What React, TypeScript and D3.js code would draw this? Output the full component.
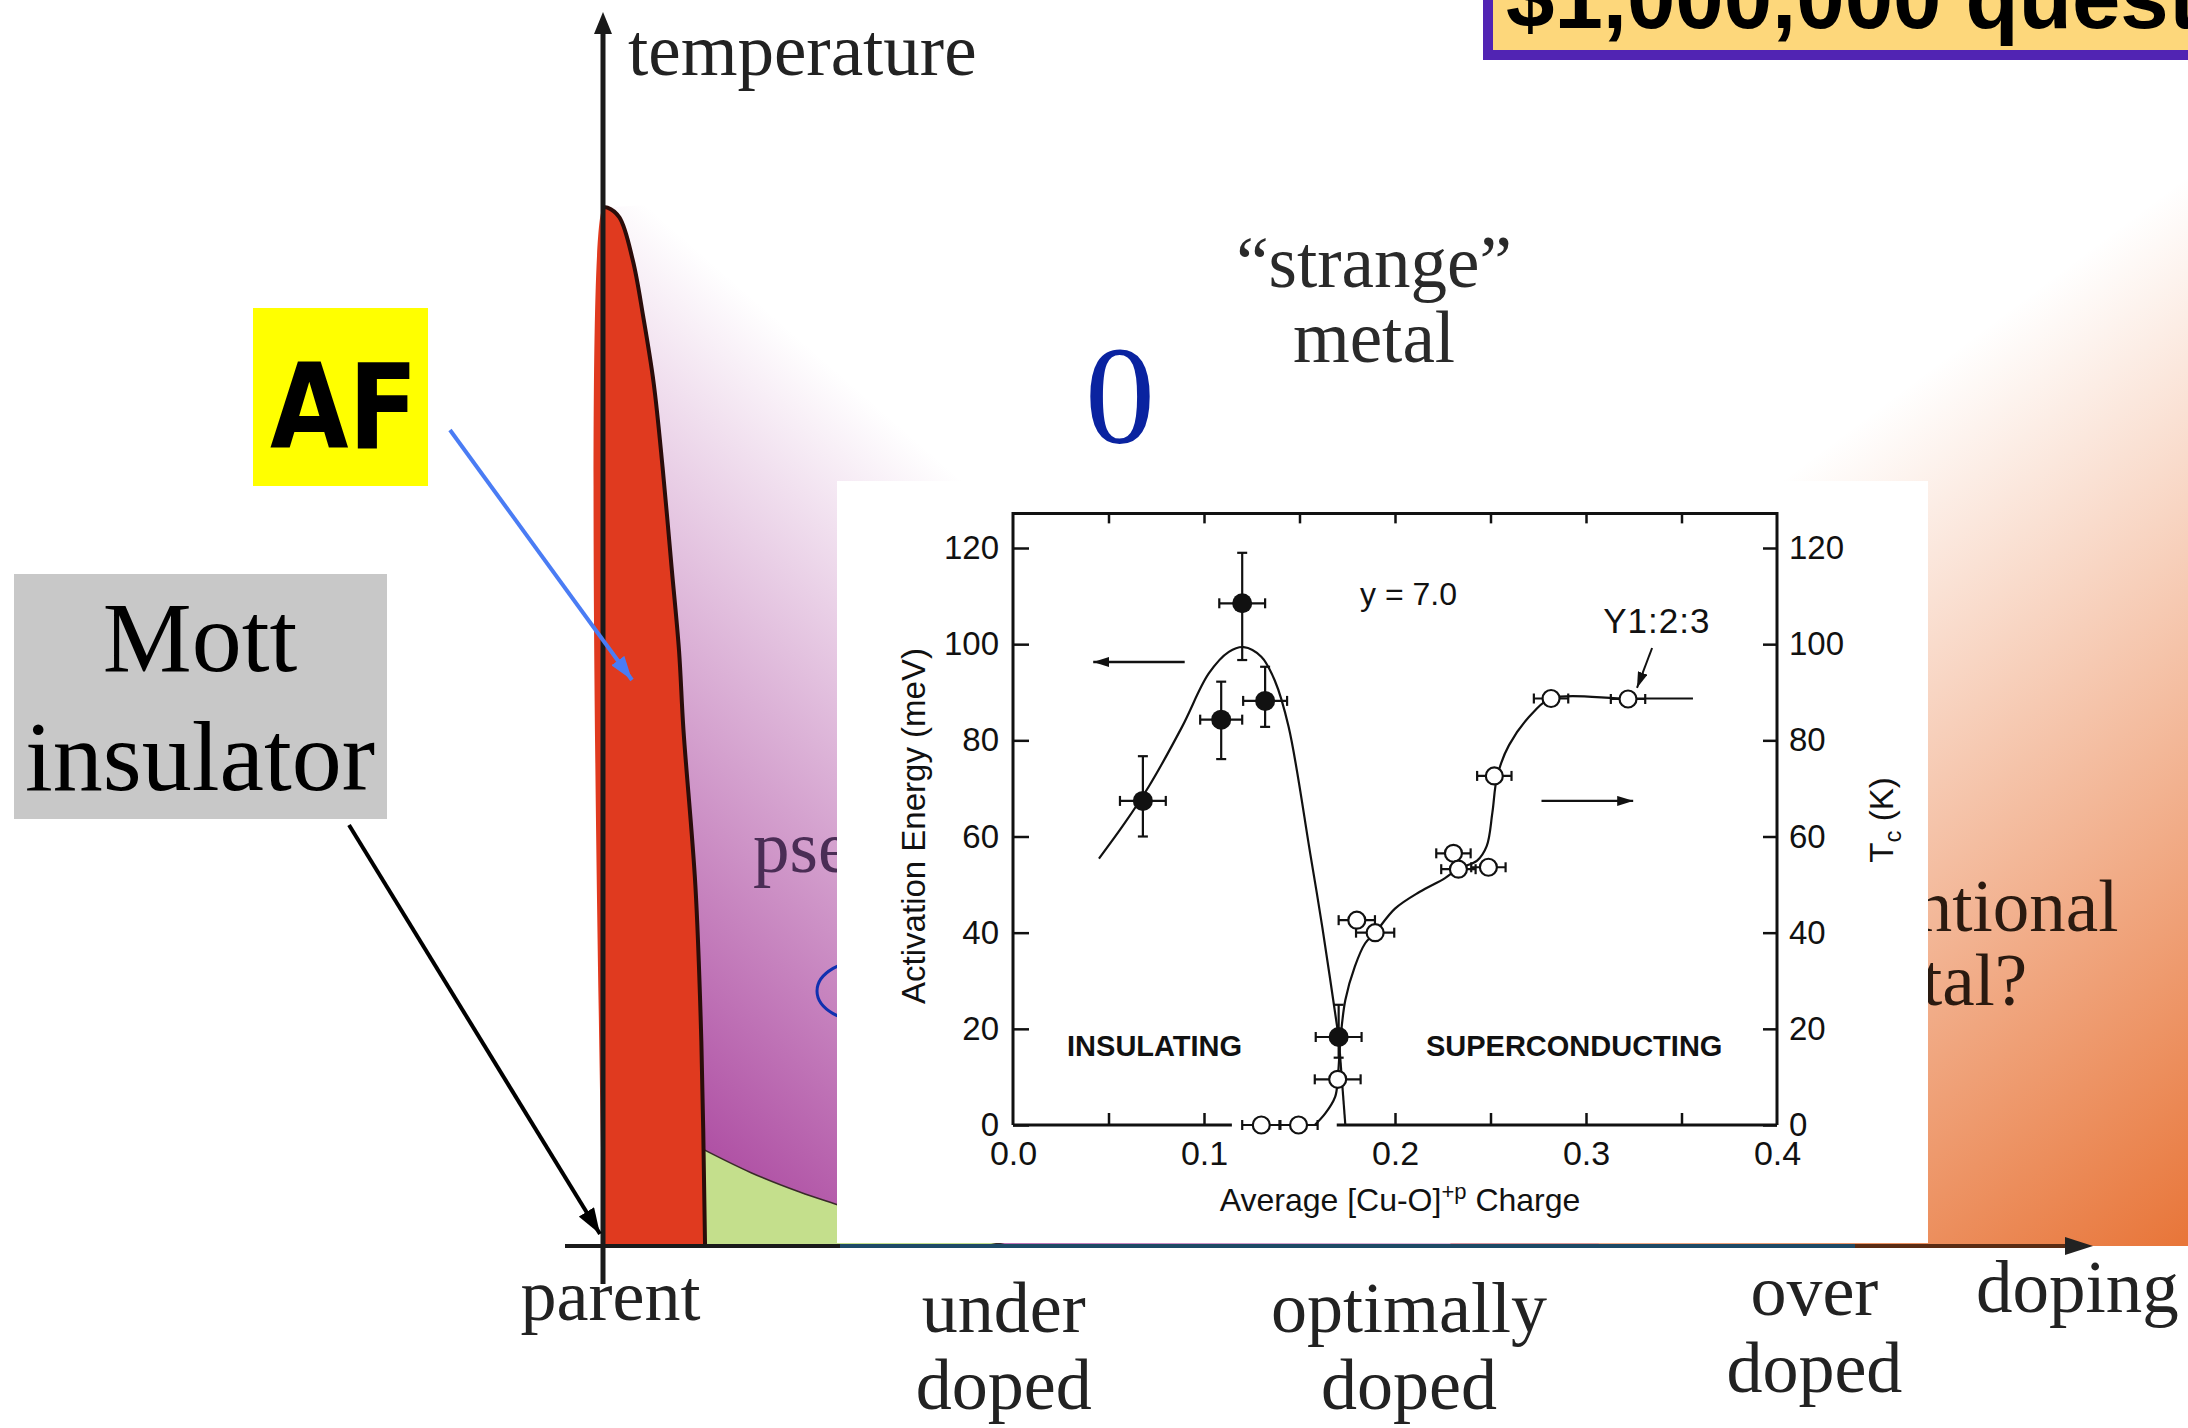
import React, { useEffect, useRef } from "react";
import * as d3 from "d3";

// ---- phase diagram, arbitrary units (doping 0-100, temperature 0-100) ----
const afDoping = [0, 0.3, 1.1, 2.0, 2.7, 3.4, 4.0, 4.6, 5.1, 5.4, 6.2, 6.6, 6.85];
const afTemp = [84.7, 84.7, 83.9, 80.4, 75.8, 70.4, 63.5, 55.4, 48.6, 42.1, 29.4, 16.7, 0];

const greenDoping = [6.7, 9.9, 13.2, 15.9, 19.9, 25.3, 27.3];
const greenTemp = [7.9, 6.0, 4.4, 3.3, 1.7, 0.5, 0];

// outer limit of the pseudogap shading (the colour fades out before it)
const pseudoDoping = [0.2, 7.85, 33.4, 60.2, 66.9];
const pseudoTemp = [84.7, 85.3, 58.4, 20.1, 0];

const metalDoping = [56.8, 66.9, 78.5, 92.6, 107.2];
const metalTemp = [0, 28.2, 62.2, 74.7, 88.2];

const regionNames = [["parent"], ["under", "doped"], ["optimally", "doped"], ["over", "doped"]];
const regionDoping = [0.5, 26.9, 54.1, 81.3];

// ---- inset: activation energy (filled) and Tc (open) vs [Cu-O] charge ----
const aeCharge = [0.068, 0.109, 0.12, 0.132, 0.1705];
const aeEnergy = [67.4, 84.3, 108.5, 88.2, 18.3];
const aeErrUp = [9.3, 7.9, 10.5, 7.1, 6.7];
const aeErrDown = [7.4, 8.2, 11.8, 5.4, 4.3];
const aeErrX = [0.012, 0.011, 0.012, 0.0115, 0.012];

const tcCharge = [0.13, 0.1495, 0.17, 0.18, 0.1896, 0.2306, 0.2332, 0.2489, 0.252, 0.2817, 0.322];
const tcValue = [0, 0, 9.5, 42.6, 40, 56.5, 53.2, 53.6, 72.6, 88.7, 88.6];
const tcErrX = [0.01, 0.01, 0.012, 0.0095, 0.01, 0.009, 0.009, 0.009, 0.009, 0.009, 0.009];

const aeFitCharge = [0.045, 0.058, 0.0711, 0.0885, 0.1025, 0.113, 0.1208, 0.13, 0.137, 0.1443, 0.1556, 0.162, 0.1705];
const aeFitEnergy = [55.4, 62.5, 70.4, 82.8, 93.9, 98.4, 99.4, 97.4, 92.5, 82.8, 56.5, 41, 18.3];
const tcFitCharge = [0.158, 0.1635, 0.1687, 0.17, 0.1715, 0.174, 0.179, 0.1844, 0.1896, 0.2, 0.213, 0.226, 0.2332, 0.243, 0.248, 0.251, 0.2535, 0.2597, 0.2728, 0.2817, 0.322, 0.356];
const tcFitValue = [0, 2.4, 5.9, 9.5, 18, 26, 33, 37.8, 40, 45, 48.5, 51.3, 53.3, 55, 58, 65, 72.5, 79, 86, 88.7, 88.7, 88.7];

const yTicks = [0, 20, 40, 60, 80, 100, 120];
const xTicks = [0, 0.1, 0.2, 0.3, 0.4];

const App: React.FC = () => {
  const svgRef = useRef<SVGSVGElement>(null);

  useEffect(() => {
    const svg = d3.select(svgRef.current);
    svg.selectAll("*").remove();

    const serif = "'Liberation Serif', 'Times New Roman', serif";
    const sans = "'Liberation Sans', Arial, Helvetica, sans-serif";

    const x = d3.scaleLinear().domain([0, 100]).range([603, 2093]);
    const y = d3.scaleLinear().domain([0, 100]).range([1246, 20]);

    const defs = svg.append("defs");
    const grad = (id: string, color: string, x1: number, y1: number, x2: number, y2: number) => {
      const g = defs.append("linearGradient").attr("id", id).attr("gradientUnits", "userSpaceOnUse")
        .attr("x1", x1).attr("y1", y1).attr("x2", x2).attr("y2", y2);
      g.append("stop").attr("offset", 0).attr("stop-color", color).attr("stop-opacity", 1);
      g.append("stop").attr("offset", 1).attr("stop-color", color).attr("stop-opacity", 0);
    };
    grad("pgGrad", "#b052a5", 390, 870, 830, 365);
    grad("flGrad", "#e8763a", 2492, 1010, 1982, 330);

    const marker = (id: string, color: string, w: number, h: number) =>
      defs.append("marker").attr("id", id).attr("viewBox", "0 0 10 10").attr("refX", 10).attr("refY", 5)
        .attr("markerUnits", "userSpaceOnUse").attr("markerWidth", w).attr("markerHeight", h)
        .attr("preserveAspectRatio", "none").attr("orient", "auto")
        .append("path").attr("d", "M0,0L10,5L0,10z").attr("fill", color);
    marker("headBlack", "#000", 26, 18);
    marker("headBlue", "#4a7cf4", 24, 16);
    marker("headSmall", "#111", 16, 10);

    svg.append("rect").attr("width", 2188).attr("height", 1428).attr("fill", "#fff");

    const pts = (xs: number[], ys: number[]) => xs.map((d, i) => [d, ys[i]] as [number, number]);
    const area = d3.line<[number, number]>().x(d => x(d[0])).y(d => y(d[1]));
    const smooth = d3.line<[number, number]>().x(d => x(d[0])).y(d => y(d[1])).curve(d3.curveCatmullRom);

    // metal region (right)
    const metal = pts(metalDoping, metalTemp).concat([[110, 88.2], [110, 0]]);
    svg.append("path").attr("d", area(metal) + "Z").attr("fill", "url(#flGrad)");

    // pseudogap region
    const af = pts(afDoping, afTemp);
    const pseudo = af.concat(pts(pseudoDoping, pseudoTemp).reverse());
    svg.append("path").attr("d", area(pseudo) + "Z").attr("fill", "url(#pgGrad)");

    // green region
    const green = ([[6.5, 0]] as [number, number][]).concat(pts(greenDoping, greenTemp));
    svg.append("path").attr("d", area(green) + "Z").attr("fill", "#c4df8c");
    svg.append("path").attr("d", smooth(pts(greenDoping, greenTemp))).attr("fill", "none")
      .attr("stroke", "#3a2a2a").attr("stroke-width", 1.6);

    // AF region
    const red = ([[0, 0]] as [number, number][]).concat(af);
    svg.append("path").attr("d", smooth(red) + "Z").attr("fill", "#e03a1f");
    svg.append("path").attr("d", smooth(af)).attr("fill", "none").attr("stroke", "#2a0d0a").attr("stroke-width", 4);

    // region texts
    const txt = (t: string, tx: number, ty: number, size: number, color: string, anchor = "middle", fam = serif) =>
      svg.append("text").attr("x", tx).attr("y", ty).attr("font-family", fam).attr("font-size", size)
        .attr("fill", color).attr("text-anchor", anchor).text(t);
    txt("temperature", 628, 75, 73, "#222", "start");
    txt("\u201Cstrange\u201D", 1374, 287, 73, "#2a2a2a");
    txt("metal", 1374, 362, 73, "#2a2a2a");
    txt("pseudogap", 753, 872, 73, "#4a2d55", "start");
    txt("conventional", 1930, 931, 73, "#2a1a10");
    txt("metal?", 1930, 1005, 73, "#2a1a10");
    txt("0", 1120, 443, 140, "#0a23a0");
    svg.append("ellipse").attr("cx", 872).attr("cy", 991).attr("rx", 55).attr("ry", 32)
      .attr("fill", "none").attr("stroke", "#1030b0").attr("stroke-width", 3);

    // ---- inset ----
    svg.append("rect").attr("x", 837).attr("y", 481).attr("width", 1091).attr("height", 762).attr("fill", "#fff");
    const ix = d3.scaleLinear().domain([0, 0.4]).range([1013, 1777]);
    const iy = d3.scaleLinear().domain([0, 120]).range([1125, 548]);
    const inset = svg.append("g");
    const top = 127.2;
    const frame = (a: [number, number][]) =>
      inset.append("path").attr("d", d3.line<[number, number]>().x(d => ix(d[0])).y(d => iy(d[1]))(a))
        .attr("fill", "none").attr("stroke", "#111").attr("stroke-width", 3);
    frame([[0, 0], [0, top], [0.4, top], [0.4, 0]]);
    frame([[0, 0], [0.1146, 0]]);
    frame([[0.1695, 0], [0.4, 0]]);

    const styleAxis = (g: any, size: number) => {
      g.select(".domain").remove();
      g.selectAll("line").attr("stroke", "#111").attr("stroke-width", 2.5);
      g.selectAll("text").attr("font-family", sans).attr("font-size", size).attr("fill", "#111");
    };
    inset.append("g").attr("transform", `translate(${ix(0)},0)`)
      .call(d3.axisLeft(iy).tickValues(yTicks).tickSize(-16).tickPadding(14).tickFormat(d3.format("d")))
      .call(g => styleAxis(g, 33));
    inset.append("g").attr("transform", `translate(${ix(0.4)},0)`)
      .call(d3.axisRight(iy).tickValues(yTicks).tickSize(-14).tickPadding(12).tickFormat(d3.format("d")))
      .call(g => styleAxis(g, 33));
    inset.append("g").attr("transform", `translate(0,${iy(0)})`)
      .call(d3.axisBottom(ix).tickValues(xTicks).tickSize(0).tickPadding(16).tickFormat(d3.format(".1f")))
      .call(g => styleAxis(g, 34));
    inset.append("g").attr("transform", `translate(0,${iy(0)})`)
      .call(d3.axisBottom(ix).tickValues([0.05, 0.1, 0.2, 0.25, 0.3, 0.35]).tickSize(-12).tickFormat(() => ""))
      .call(g => styleAxis(g, 10));
    inset.append("g").attr("transform", `translate(0,${iy(top)})`)
      .call(d3.axisTop(ix).tickValues([0.05, 0.1, 0.15, 0.2, 0.25, 0.3, 0.35]).tickSize(-10).tickFormat(() => ""))
      .call(g => styleAxis(g, 10));

    const iline = d3.line<[number, number]>().x(d => ix(d[0])).y(d => iy(d[1]));
    const icurve = d3.line<[number, number]>().x(d => ix(d[0])).y(d => iy(d[1])).curve(d3.curveCatmullRom);
    const stroke = (p: any) => p.attr("fill", "none").attr("stroke", "#111").attr("stroke-width", 2.2);
    inset.append("path").attr("d", icurve(pts(aeFitCharge, aeFitEnergy))).call(stroke);
    inset.append("path").attr("d", iline([[0.1705, 18.3], [0.174, 0]])).call(stroke);
    inset.append("path").attr("d", icurve(pts(tcFitCharge, tcFitValue))).call(stroke);

    const bar = (x1: number, y1: number, x2: number, y2: number) =>
      inset.append("line").attr("x1", x1).attr("y1", y1).attr("x2", x2).attr("y2", y2)
        .attr("stroke", "#111").attr("stroke-width", 2.2);
    aeCharge.forEach((c, i) => {
      const cx = ix(c), cy = iy(aeEnergy[i]);
      const yu = iy(aeEnergy[i] + aeErrUp[i]), yd = iy(aeEnergy[i] - aeErrDown[i]);
      const xl = ix(c - aeErrX[i]), xr = ix(c + aeErrX[i]);
      bar(cx, yu, cx, yd); bar(cx - 5, yu, cx + 5, yu); bar(cx - 5, yd, cx + 5, yd);
      bar(xl, cy, xr, cy); bar(xl, cy - 5, xl, cy + 5); bar(xr, cy - 5, xr, cy + 5);
    });
    tcCharge.forEach((c, i) => {
      const cy = iy(tcValue[i]);
      const xl = ix(c - tcErrX[i]), xr = ix(c + tcErrX[i]);
      bar(xl, cy, xr, cy); bar(xl, cy - 5, xl, cy + 5); bar(xr, cy - 5, xr, cy + 5);
    });
    inset.selectAll("circle.ae").data(aeCharge).enter().append("circle")
      .attr("cx", d => ix(d)).attr("cy", (d, i) => iy(aeEnergy[i])).attr("r", 10).attr("fill", "#111");
    inset.selectAll("circle.tc").data(tcCharge).enter().append("circle")
      .attr("cx", d => ix(d)).attr("cy", (d, i) => iy(tcValue[i])).attr("r", 8.5)
      .attr("fill", "#fff").attr("stroke", "#111").attr("stroke-width", 2.2);

    const arrow = (a: [number, number], b: [number, number], w = 2.4) =>
      inset.append("line").attr("x1", ix(a[0])).attr("y1", iy(a[1])).attr("x2", ix(b[0])).attr("y2", iy(b[1]))
        .attr("stroke", "#111").attr("stroke-width", w).attr("marker-end", "url(#headSmall)");
    arrow([0.0899, 96.3], [0.042, 96.3]);
    arrow([0.2767, 67.4], [0.3247, 67.4]);
    arrow([0.3346, 99.2], [0.3267, 90.9], 2);

    const itxt = (t: string, tx: number, ty: number, size: number, anchor = "start", weight = "normal") =>
      inset.append("text").attr("x", tx).attr("y", ty).attr("font-family", sans).attr("font-size", size)
        .attr("font-weight", weight).attr("text-anchor", anchor).attr("fill", "#111").text(t);
    itxt("y = 7.0", ix(0.1817), iy(108.2), 32);
    itxt("Y1:2:3", ix(0.309), iy(102.3), 35).attr("letter-spacing", 1);
    itxt("INSULATING", ix(0.0283), iy(14.35), 29, "start", "bold");
    itxt("SUPERCONDUCTING", ix(0.2162), iy(14.35), 29, "start", "bold");

    const xl = itxt("", 1400, 1211, 32, "middle");
    xl.append("tspan").text("Average [Cu-O]");
    xl.append("tspan").attr("dy", -12).attr("font-size", 22).text("+p");
    xl.append("tspan").attr("dy", 12).text(" Charge");
    inset.append("text").attr("transform", "translate(925,826) rotate(-90)").attr("text-anchor", "middle")
      .attr("font-family", sans).attr("font-size", 33).attr("fill", "#111").text("Activation Energy (meV)");
    const tl = inset.append("text").attr("transform", "translate(1893,820) rotate(-90)").attr("text-anchor", "middle")
      .attr("font-family", sans).attr("font-size", 33).attr("fill", "#111");
    tl.append("tspan").text("T");
    tl.append("tspan").attr("dy", 8).attr("font-size", 24).text("c");
    tl.append("tspan").attr("dy", -8).text(" (K)");

    // ---- main axes ----
    const hseg = (x1: number, x2: number, c: string) =>
      svg.append("line").attr("x1", x1).attr("x2", x2).attr("y1", y(0)).attr("y2", y(0))
        .attr("stroke", c).attr("stroke-width", 4);
    hseg(565, 840, "#1a1a1a");
    hseg(840, 1855, "#1e4a66");
    hseg(1855, 2070, "#5a2c14");
    svg.append("path").attr("d", `M${x(100) - 28},${y(0) - 9}L${x(100)},${y(0)}L${x(100) - 28},${y(0) + 9}Z`).attr("fill", "#222");
    svg.append("line").attr("x1", x(0)).attr("x2", x(0)).attr("y1", 28).attr("y2", 1284)
      .attr("stroke", "#1a1a1a").attr("stroke-width", 5);
    svg.append("path").attr("d", `M${x(0) - 9},34L${x(0)},12L${x(0) + 9},34Z`).attr("fill", "#1a1a1a");

    const baselines = [1320, 1332, 1332, 1315];
    regionNames.forEach((lines, i) => {
      lines.forEach((l, j) => txt(l, x(regionDoping[i]), baselines[i] + j * 77, 72, "#222"));
    });
    txt("doping", 1976, 1312, 73, "#222", "start");

    // ---- callouts ----
    svg.append("rect").attr("x", 253).attr("y", 308).attr("width", 175).attr("height", 178).attr("fill", "#ffff00");
    svg.append("text").attr("x", 344).attr("y", 448).attr("text-anchor", "middle")
      .attr("font-family", "'Comic Sans MS', 'DejaVu Sans', sans-serif").attr("font-weight", "bold")
      .attr("font-size", 118).attr("textLength", 148).attr("lengthAdjust", "spacingAndGlyphs").attr("fill", "#000").text("AF");
    svg.append("line").attr("x1", 450).attr("y1", 430).attr("x2", 632).attr("y2", 680)
      .attr("stroke", "#4a7cf4").attr("stroke-width", 4).attr("marker-end", "url(#headBlue)");

    svg.append("rect").attr("x", 14).attr("y", 574).attr("width", 373).attr("height", 245).attr("fill", "#c8c8c8");
    txt("Mott", 200, 671, 100, "#000");
    txt("insulator", 200, 790, 100, "#000");
    svg.append("line").attr("x1", 349).attr("y1", 825).attr("x2", 600).attr("y2", 1234)
      .attr("stroke", "#000").attr("stroke-width", 4).attr("marker-end", "url(#headBlack)");

    svg.append("rect").attr("x", 1488).attr("y", -20).attr("width", 760).attr("height", 75)
      .attr("fill", "#fdd77b").attr("stroke", "#5124b3").attr("stroke-width", 10);
    svg.append("text").attr("x", 1506).attr("y", 28).attr("font-family", sans).attr("font-weight", "bold")
      .attr("font-size", 87).attr("fill", "#000").text("$1,000,000 question");
  }, []);

  return (
    <svg ref={svgRef} width={2188} height={1428}
      style={{ position: "absolute", left: 0, top: 0, display: "block" }} />
  );
};

export default App;
